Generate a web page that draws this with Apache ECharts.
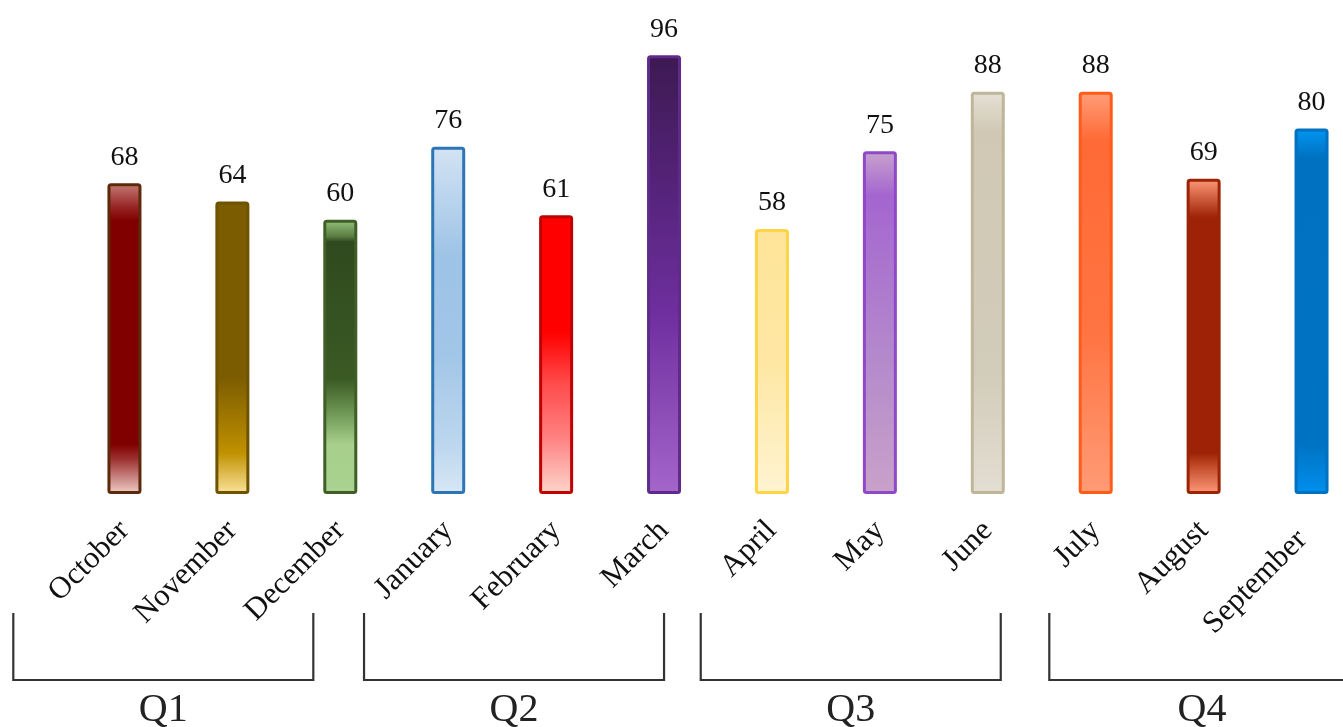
<!DOCTYPE html>
<html>
<head>
<meta charset="utf-8">
<title>Monthly values by quarter</title>
<script src="https://cdn.jsdelivr.net/npm/echarts@6/dist/echarts.min.js"></script>
<style>
  html, body { margin: 0; padding: 0; background: #ffffff; }
  #chart { width: 1343px; height: 727px; }
</style>
</head>
<body>
<div id="chart"></div>
<script>
// ---- data ----
const months = ['October', 'November', 'December', 'January', 'February', 'March',
                'April', 'May', 'June', 'July', 'August', 'September'];
const values = [68, 64, 60, 76, 61, 96, 58, 75, 88, 88, 69, 80];
const quarters = ['Q1', 'Q2', 'Q3', 'Q4'];

// ---- styles: border colour and vertical gradient stops for each bar ----
const barStyles = [
  { border: '#5c2a0a', stops: [[0, '#c47c76'], [0.08, '#962222'], [0.12, '#800000'], [0.84, '#800000'], [0.89, '#9e3434'], [1, '#f2d0ca']] },
  { border: '#6e5300', stops: [[0, '#7b5c00'], [0.6, '#7b5c00'], [0.82, '#b58800'], [0.86, '#c09200'], [1, '#fbe49c']] },
  { border: '#3f5f27', stops: [[0, '#98c47e'], [0.06, '#5a7d42'], [0.08, '#2f4a1e'], [0.58, '#3a5a24'], [0.7, '#6c9452'], [0.82, '#a8d08c'], [1, '#aad290']] },
  { border: '#2e75b6', stops: [[0, '#d3e3f4'], [0.32, '#9dc3e6'], [0.6, '#a2c6e8'], [0.85, '#bcd6ee'], [1, '#d7e7f6']] },
  { border: '#c00000', stops: [[0, '#ff0000'], [0.42, '#ff0000'], [0.6, '#ff4a4a'], [0.8, '#ff8282'], [1, '#fcd6cc']] },
  { border: '#5f2b8b', stops: [[0, '#3d1a52'], [0.3, '#55237a'], [0.6, '#7030a0'], [1, '#a466cb']] },
  { border: '#ffd447', stops: [[0, '#fee498'], [0.5, '#fee7a3'], [1, '#fff4d2']] },
  { border: '#8e48c8', stops: [[0, '#c8a2cc'], [0.13, '#a465d0'], [0.6, '#b489cc'], [1, '#c9a2c9']] },
  { border: '#bfb69a', stops: [[0, '#e5e1d6'], [0.1, '#d0c8b4'], [0.7, '#d2ccba'], [1, '#e2ded2']] },
  { border: '#ff5b19', stops: [[0, '#ff9e7a'], [0.12, '#ff6a36'], [0.6, '#ff7442'], [1, '#ff9b76']] },
  { border: '#9b2406', stops: [[0, '#ff9a7a'], [0.12, '#a12508'], [0.13, '#9e2306'], [0.87, '#9e2306'], [0.9, '#b8401e'], [1, '#ff9b7c']] },
  { border: '#0070c0', stops: [[0, '#0096f2'], [0.08, '#0071c1'], [0.86, '#0072c2'], [1, '#0090ee']] }
];

const FONT = "'Liberation Serif', 'DejaVu Serif', serif";

function gradient(stops) {
  return new echarts.graphic.LinearGradient(0, 0, 0, 1,
    stops.map(s => ({ offset: s[0], color: s[1] })));
}

const barData = values.map((v, i) => ({
  value: v,
  itemStyle: {
    color: gradient(barStyles[i].stops),
    borderColor: barStyles[i].border
  }
}));

// the last month label sits a little back along its slant
const monthLabels = months.map((m, i) =>
  i === months.length - 1 ? { value: m, textStyle: { padding: [0, 13, 0, 0] } } : m);

// quarter brackets, given in month-index units on the hidden value axis
const bracketSpan = [[-1.03, 1.75], [2.22, 5.0], [5.34, 8.12], [8.57, 11.4]];
const bracketData = quarters.map((q, i) => [bracketSpan[i][0], bracketSpan[i][1], q]);

const chart = echarts.init(document.getElementById('chart'), null, { renderer: 'canvas' });

chart.setOption({
  animation: false,
  backgroundColor: '#ffffff',
  grid: {
    left: 70.5, top: 37, width: 1295, height: 457,
    containLabel: false,
    outerBoundsMode: 'none'
  },
  xAxis: [
    {
      type: 'category',
      data: monthLabels,
      axisLine: { show: false },
      axisTick: { show: false },
      axisLabel: {
        interval: 0,
        rotate: 45,
        margin: 32,
        color: '#111111',
        fontFamily: FONT,
        fontSize: 31
      }
    },
    { type: 'value', min: -0.5, max: 11.5, show: false }
  ],
  yAxis: [
    { type: 'value', min: 0, max: 100, show: false, splitLine: { show: false } }
  ],
  series: [
    {
      type: 'bar',
      xAxisIndex: 0,
      yAxisIndex: 0,
      barWidth: 34,
      data: barData,
      itemStyle: { borderWidth: 3, borderRadius: 2 },
      label: {
        show: true,
        position: 'top',
        distance: 12,
        color: '#111111',
        fontFamily: FONT,
        fontSize: 28
      }
    },
    {
      type: 'custom',
      xAxisIndex: 1,
      yAxisIndex: 0,
      clip: false,
      silent: true,
      data: bracketData,
      renderItem: function (params, api) {
        const x0 = api.coord([api.value(0), 0])[0];
        const x1 = api.coord([api.value(1), 0])[0];
        const base = api.coord([0, 0])[1];
        const top = base + 119;
        const bottom = base + 186;
        return {
          type: 'group',
          children: [
            {
              type: 'polyline',
              shape: { points: [[x0, top], [x0, bottom], [x1, bottom], [x1, top]] },
              style: { stroke: '#333333', lineWidth: 2.2, fill: null }
            },
            {
              type: 'text',
              style: {
                x: (x0 + x1) / 2,
                y: base + 216,
                text: api.value(2),
                textAlign: 'center',
                textVerticalAlign: 'middle',
                verticalAlign: 'middle',
                fill: '#222222',
                font: "40px 'Liberation Serif', 'DejaVu Serif', serif"
              }
            }
          ]
        };
      }
    }
  ]
});
</script>
</body>
</html>
